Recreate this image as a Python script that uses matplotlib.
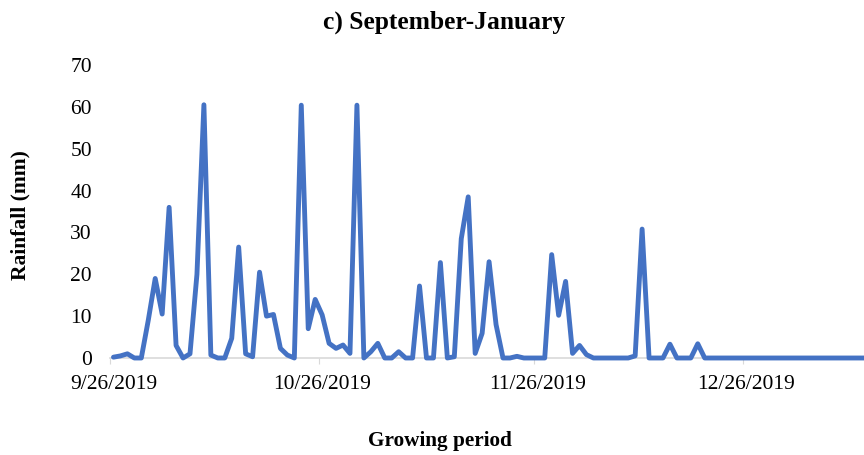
import matplotlib
matplotlib.use("Agg")
import matplotlib.pyplot as plt
import matplotlib.dates as mdates
from matplotlib.transforms import ScaledTranslation
import pandas as pd

# daily rainfall (mm), starting 9/26/2019
rain = [0.2, 0.5, 1.0, 0, 0, 9, 19, 10.5, 36, 3,
        0, 1, 20, 60.5, 0.7, 0, 0, 4.7, 26.5, 1,
        0.3, 20.5, 10, 10.4, 2.3, 0.7, 0, 60.4, 7, 14,
        10.3, 3.5, 2.3, 3.1, 1.1, 60.4, 0, 1.5, 3.5, 0,
        0, 1.5, 0, 0, 17.2, 0, 0, 22.8, 0, 0.3,
        28.5, 38.5, 1.1, 5.9, 23, 8, 0, 0, 0.4, 0,
        0, 0, 0, 24.7, 10.2, 18.3, 1.1, 3, 0.8, 0,
        0, 0, 0, 0, 0, 0.5, 30.8, 0, 0, 0,
        3.3, 0, 0, 0, 3.4, 0, 0, 0, 0, 0,
        0, 0, 0, 0, 0, 0, 0, 0, 0, 0,
        0, 0, 0, 0, 0, 0, 0, 0, 0]
start = "2019-09-26"
tick_dates = ["2019-09-26", "2019-10-26", "2019-11-26", "2019-12-26"]
tick_labels = ["9/26/2019", "10/26/2019", "11/26/2019", "12/26/2019"]
yticks = [0, 10, 20, 30, 40, 50, 60, 70]

plt.rcParams['font.family'] = ['Liberation Serif', 'DejaVu Serif']

dates = pd.date_range(start, periods=len(rain))
x = mdates.date2num(dates) + 0.5   # excel puts points mid-day
x0 = mdates.date2num(pd.Timestamp(start))

fig = plt.figure(figsize=(8.64, 4.55), dpi=100)
ax = fig.add_axes([110 / 864, 1 - 358 / 455, 1 - 110 / 864, (358 - 65) / 455])

ax.plot(x, rain, color="#4472C4", linewidth=3.5, solid_joinstyle="round",
        solid_capstyle="round", clip_on=False, zorder=3)

ax.set_xlim(x0, x0 + 108.4)
ax.set_ylim(0, 70)
ax.set_yticks(yticks)
ax.set_xticks(mdates.date2num(pd.to_datetime(tick_dates)))
ax.set_xticklabels(tick_labels)

for s in ["top", "right", "left"]:
    ax.spines[s].set_visible(False)
ax.spines["bottom"].set_color("#D9D9D9")
ax.spines["bottom"].set_linewidth(1.2)
ax.tick_params(axis="y", length=0, pad=13, labelsize=15.5)
ax.tick_params(axis="x", length=4, color="#D9D9D9", pad=8, labelsize=15.5)

# labels sit half a day right of the tick marks
shift = ScaledTranslation(3.5 / 100, 0, fig.dpi_scale_trans)
for lab in ax.get_xticklabels():
    lab.set_transform(lab.get_transform() + shift)

fig.text(444 / 864, 1 - 22 / 455, "c) September-January", ha="center", va="center",
         fontsize=18.4, fontweight="bold")
fig.text(20 / 864, 1 - 215 / 455, "Rainfall (mm)", ha="center", va="center",
         rotation=90, fontsize=15.5, fontweight="bold")
fig.text(440 / 864, 1 - 441 / 455, "Growing period", ha="center", va="center",
         fontsize=15.3, fontweight="bold")

fig.savefig("out.png", dpi=100)
